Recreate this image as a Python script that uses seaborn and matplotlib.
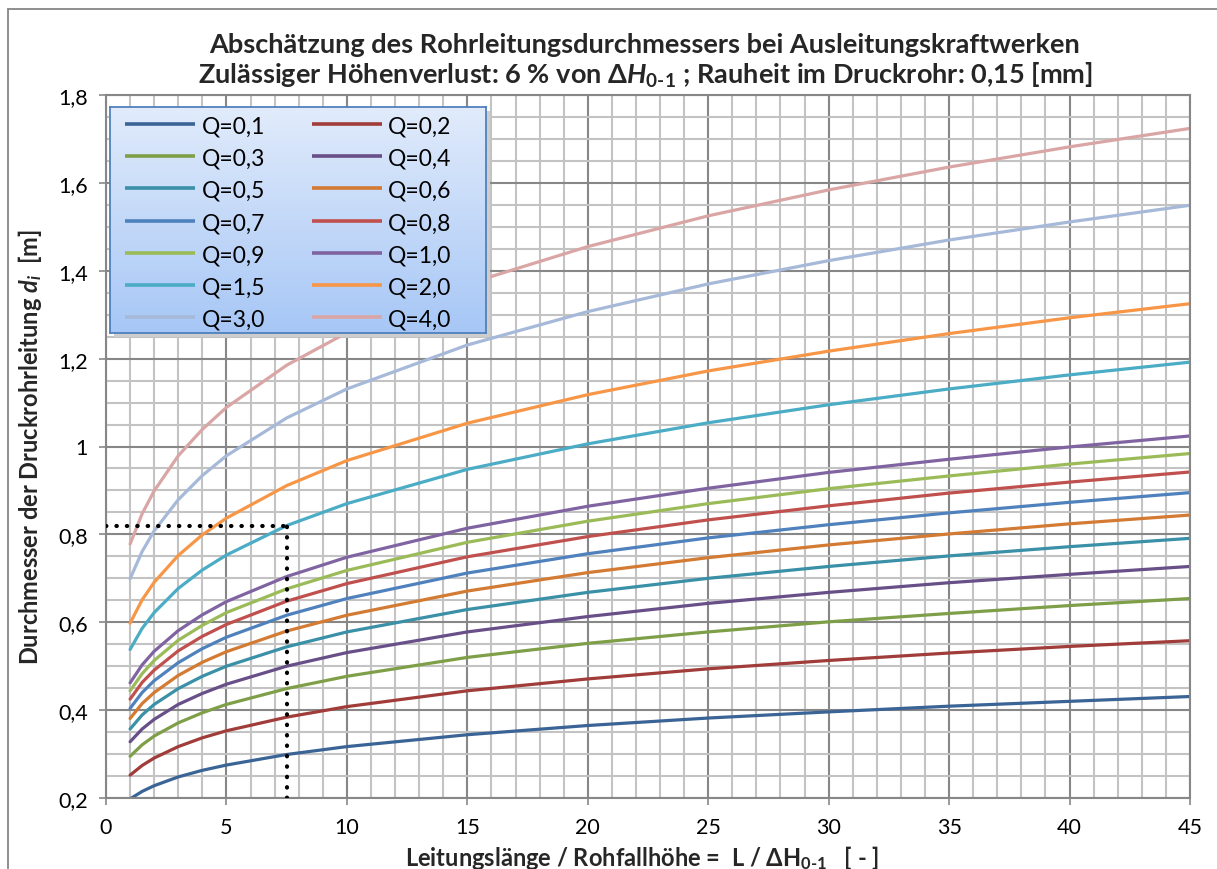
import numpy as np
import pandas as pd
import matplotlib
matplotlib.use("Agg")
import matplotlib.pyplot as plt
import seaborn as sns
from matplotlib.ticker import MultipleLocator, FuncFormatter
from matplotlib.lines import Line2D
from matplotlib.colors import LinearSegmentedColormap

sns.set_theme(style="white")
plt.rcParams["font.family"] = ["Lato", "DejaVu Sans"]
plt.rcParams["mathtext.fontset"] = "custom"
plt.rcParams["mathtext.rm"] = "Lato:bold"
plt.rcParams["mathtext.it"] = "Lato:italic:bold"
plt.rcParams["mathtext.bf"] = "Lato:bold"

# relative pipe length L / dH_0-1
L_ratio = [1, 1.5, 2, 3, 4, 5, 7.5, 10, 15, 20, 25, 30, 35, 40, 45]

# inner diameter d_i [m] per discharge Q [m3/s]
d_q01 = [0.198, 0.215, 0.228, 0.248, 0.263, 0.275, 0.299, 0.317, 0.344, 0.365, 0.382, 0.396, 0.409, 0.420, 0.431]
d_q02 = [0.252, 0.274, 0.291, 0.317, 0.337, 0.353, 0.384, 0.408, 0.444, 0.471, 0.494, 0.513, 0.530, 0.545, 0.558]
d_q03 = [0.295, 0.321, 0.341, 0.371, 0.394, 0.413, 0.449, 0.477, 0.520, 0.552, 0.578, 0.601, 0.620, 0.638, 0.654]
d_q04 = [0.328, 0.357, 0.379, 0.413, 0.438, 0.459, 0.500, 0.531, 0.578, 0.613, 0.643, 0.668, 0.690, 0.709, 0.727]
d_q05 = [0.357, 0.389, 0.413, 0.449, 0.477, 0.500, 0.544, 0.578, 0.629, 0.668, 0.700, 0.727, 0.751, 0.772, 0.791]
d_q06 = [0.381, 0.415, 0.440, 0.479, 0.509, 0.533, 0.580, 0.616, 0.671, 0.713, 0.747, 0.776, 0.801, 0.824, 0.844]
d_q07 = [0.404, 0.440, 0.467, 0.508, 0.540, 0.566, 0.616, 0.654, 0.712, 0.756, 0.792, 0.822, 0.849, 0.873, 0.895]
d_q08 = [0.425, 0.463, 0.491, 0.535, 0.568, 0.595, 0.648, 0.688, 0.749, 0.795, 0.833, 0.865, 0.894, 0.919, 0.942]
d_q09 = [0.444, 0.483, 0.513, 0.559, 0.593, 0.622, 0.676, 0.718, 0.782, 0.830, 0.870, 0.904, 0.933, 0.960, 0.984]
d_q10 = [0.462, 0.503, 0.534, 0.581, 0.617, 0.647, 0.704, 0.748, 0.814, 0.864, 0.905, 0.941, 0.971, 0.999, 1.024]
d_q15 = [0.538, 0.586, 0.622, 0.677, 0.719, 0.753, 0.820, 0.870, 0.948, 1.006, 1.054, 1.095, 1.131, 1.163, 1.192]
d_q20 = [0.598, 0.651, 0.691, 0.752, 0.799, 0.837, 0.911, 0.968, 1.053, 1.118, 1.172, 1.217, 1.257, 1.293, 1.325]
d_q30 = [0.699, 0.761, 0.808, 0.879, 0.934, 0.979, 1.065, 1.131, 1.231, 1.307, 1.370, 1.423, 1.470, 1.511, 1.549]
d_q40 = [0.778, 0.847, 0.899, 0.979, 1.039, 1.089, 1.185, 1.259, 1.370, 1.455, 1.525, 1.584, 1.636, 1.682, 1.724]

series_labels = ["Q=0,1", "Q=0,2", "Q=0,3", "Q=0,4", "Q=0,5", "Q=0,6", "Q=0,7",
                 "Q=0,8", "Q=0,9", "Q=1,0", "Q=1,5", "Q=2,0", "Q=3,0", "Q=4,0"]
series_values = [d_q01, d_q02, d_q03, d_q04, d_q05, d_q06, d_q07,
                 d_q08, d_q09, d_q10, d_q15, d_q20, d_q30, d_q40]
series_colors = ["#3A6495", "#A03C39", "#7E9F48", "#684F88", "#3A90A7", "#D37A33",
                 "#4F81BD", "#C0504D", "#9BBB59", "#8064A2", "#4BACC6", "#F79646",
                 "#A6B9D8", "#D9A6A5"]

# design example: Q = 1,5 at L/dH = 7,5 gives d_i = 0,82
example_x = 7.5
example_d = 0.82

x_ticks = [0, 5, 10, 15, 20, 25, 30, 35, 40, 45]
y_ticks = [0.2, 0.4, 0.6, 0.8, 1.0, 1.2, 1.4, 1.6, 1.8]

frames = []
for lab, vals in zip(series_labels, series_values):
    frames.append(pd.DataFrame({"L": L_ratio, "d": vals, "Q": lab}))
df = pd.concat(frames, ignore_index=True)

W, H = 1217, 870
fig = plt.figure(figsize=(W / 100, H / 100), dpi=100)
fig.patch.set_facecolor("white")

def fig_box(x0, y0, x1, y1):
    return [x0 / W, 1 - y1 / H, (x1 - x0) / W, (y1 - y0) / H]

ax = fig.add_axes(fig_box(106, 96, 1190, 799))

sns.lineplot(data=df, x="L", y="d", hue="Q", hue_order=series_labels,
             palette=dict(zip(series_labels, series_colors)),
             linewidth=2.3, legend=False, ax=ax, sort=False, estimator=None)

# dotted reading lines for the example
ax.plot([0, example_x], [example_d, example_d], color="black", lw=3,
        linestyle=(0, (0.1, 2.4)), dash_capstyle="round", zorder=5)
ax.plot([example_x, example_x], [0.2, example_d], color="black", lw=3,
        linestyle=(0, (0.1, 2.4)), dash_capstyle="round", zorder=5)

ax.set_xlim(0, 45)
ax.set_ylim(0.2, 1.8)
ax.set_xticks(x_ticks)
ax.set_yticks(y_ticks)
ax.xaxis.set_minor_locator(MultipleLocator(1))
ax.yaxis.set_minor_locator(MultipleLocator(0.05))
ax.yaxis.set_major_formatter(FuncFormatter(lambda v, p: f"{v:g}".replace(".", ",")))
ax.xaxis.set_major_formatter(FuncFormatter(lambda v, p: f"{v:g}"))
ax.set_axisbelow(True)
ax.grid(which="minor", color="#C3C3C3", linewidth=1.5)
ax.grid(which="major", color="#878787", linewidth=1.5)
for s in ax.spines.values():
    s.set_color("#878787")
    s.set_linewidth(1.5)
ax.tick_params(which="major", direction="out", length=5, width=1.2, color="#878787",
               labelsize=15.5, labelcolor="black", bottom=True, left=True)
ax.tick_params(axis="y", which="major", pad=8)
ax.tick_params(axis="x", which="major", pad=9)
ax.tick_params(which="minor", length=0)
ax.set_xlabel("")
ax.set_ylabel("")

# legend panel with vertical gradient and drop shadow
sax = fig.add_axes(fig_box(114, 112, 490, 338))
sax.set_facecolor("#CDCDCD")
sax.set_xticks([]); sax.set_yticks([])
for s in sax.spines.values():
    s.set_visible(False)

px0, py0, px1, py1 = 110, 108, 486, 334
gax = fig.add_axes(fig_box(px0, py0, px1, py1))
grad_cmap = LinearSegmentedColormap.from_list("panel", ["#A7C7F6", "#E1EBFB"])
gax.imshow(np.linspace(0, 1, 256).reshape(-1, 1)[::-1], aspect="auto", cmap=grad_cmap,
           extent=[px0, px1, py1, py0], origin="upper")
gax.set_xlim(px0, px1)
gax.set_ylim(py1, py0)
gax.set_xticks([]); gax.set_yticks([])
for s in gax.spines.values():
    s.set_color("#4F81BD")
    s.set_linewidth(1.3)

# legend entries: two columns, filled row by row
col_handle = [(125, 195), (312, 382)]
col_text = [202, 388]
for i, (lab, col) in enumerate(zip(series_labels, series_colors)):
    r, c = divmod(i, 2)
    yc = 125 + 32.2 * r
    gax.plot(col_handle[c], [yc, yc], color=col, lw=2.6, solid_capstyle="butt")
    gax.text(col_text[c], yc, lab, ha="left", va="center_baseline", fontsize=16.5,
             color="black")

# chart area border (top and left)
fig.add_artist(Line2D([8 / W, 8 / W], [0, 1 - 10 / H], transform=fig.transFigure,
                      color="#868686", lw=1.3))
fig.add_artist(Line2D([8 / W, 1], [1 - 10 / H, 1 - 10 / H], transform=fig.transFigure,
                      color="#868686", lw=1.3))

fig.text(645 / W, 1 - 45 / H,
         "Abschätzung des Rohrleitungsdurchmessers bei Ausleitungskraftwerken",
         ha="center", va="center", fontsize=19.5, fontweight="bold")
fig.text(645 / W, 1 - 75 / H,
         r"Zulässiger Höhenverlust: 6 % von $\mathit{ΔH}_{\mathit{0\text{-}1}}$ ; Rauheit im Druckrohr: 0,15 [mm]",
         ha="center", va="center", fontsize=19.5, fontweight="bold")
fig.text(30 / W, 1 - 447 / H,
         r"Durchmesser der Druckrohrleitung $\mathit{d}_{\mathit{i}}$  [m]",
         ha="center", va="center", rotation=90, fontsize=17, fontweight="bold")
fig.text(642 / W, 1 - 858 / H,
         r"Leitungslänge / Rohfallhöhe =  L / ΔH$_{\mathrm{0\text{-}1}}$   [ - ]",
         ha="center", va="center", fontsize=17, fontweight="bold")

fig.savefig("out.png", dpi=100, facecolor="white")
